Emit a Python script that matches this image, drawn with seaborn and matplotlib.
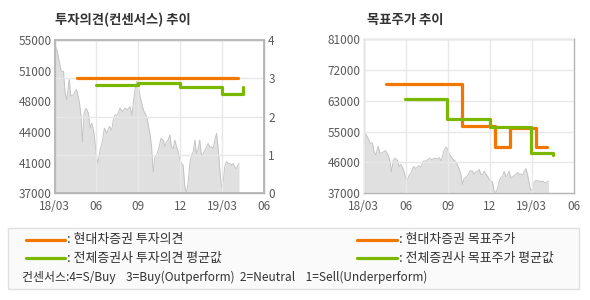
import numpy as np
import pandas as pd
import matplotlib
matplotlib.use("Agg")
import matplotlib.pyplot as plt
import seaborn as sns
from matplotlib.lines import Line2D
from matplotlib.patches import Rectangle

# ---------------- data ----------------
# x in months since 2018-03
price_month = [0.00, 0.17, 0.36, 0.48, 0.64, 0.76, 0.88, 1.05, 1.17, 1.36, 1.55, 1.64, 1.79, 1.90,
               2.00, 2.12, 2.26, 2.43, 2.55, 2.67, 2.83, 2.98, 3.10, 3.26, 3.45, 3.57, 3.74, 3.93,
               4.10, 4.21, 4.33, 4.50, 4.69, 4.88, 5.05, 5.24, 5.40, 5.55, 5.64, 5.76, 5.88, 6.00,
               6.12, 6.24, 6.36, 6.48, 6.60, 6.71, 6.83, 6.95, 7.07, 7.19, 7.31, 7.50, 7.62, 7.79,
               7.90, 8.02, 8.14, 8.26, 8.38, 8.50, 8.62, 8.74, 8.86, 8.98, 9.10, 9.21, 9.33, 9.45,
               9.57, 9.69, 9.81, 9.93, 10.05, 10.17, 10.29, 10.40, 10.52, 10.64, 10.76, 10.88,
               11.00, 11.12, 11.24, 11.36, 11.48, 11.60, 11.71, 11.83, 11.95, 12.07, 12.19, 12.31,
               12.43, 12.55, 12.67, 12.79, 12.90, 13.02, 13.14, 13.21]
price_value = [54500, 53900, 52350, 51350, 51350, 48800, 48000, 50450, 48400, 48600, 49200, 48800,
               47600, 46000, 43050, 46400, 47000, 46400, 44650, 45250, 44050, 41650, 40500, 42050,
               43250, 44650, 44050, 44850, 44450, 45600, 46200, 46200, 47000, 46600, 47000, 46800,
               47200, 46200, 47600, 49200, 50150, 49800, 48400, 47600, 46800, 46400, 46000, 45050,
               44050, 42450, 39500, 41250, 41450, 42450, 43450, 43250, 42450, 43050, 43250, 43850,
               42450, 42250, 43250, 42450, 41850, 40900, 40500, 40300, 37700, 37100, 38300, 40500,
               41450, 41850, 43250, 41650, 42250, 43250, 41450, 41650, 42050, 42450, 42850, 42450,
               42450, 42250, 43250, 44050, 42450, 39900, 37700, 38300, 40100, 40700, 40500, 40500,
               40300, 40500, 40100, 39900, 40300, 40500]

# investment opinion (right axis, 0-4)
opinion_firm_month = [1.64, 13.17]
opinion_firm_value = [3.0, 3.0]
opinion_avg_month = [2.95, 5.95, 9.02, 11.98, 13.50]
opinion_avg_value = [2.84, 2.87, 2.77, 2.59, 2.78]

# target price
target_firm_month = [1.62, 7.00, 9.40, 10.48, 12.29, 13.14]
target_firm_value = [68200, 56100, 50200, 55500, 50200, 50200]
target_avg_month = [2.93, 5.98, 9.05, 11.98, 13.45, 13.50]
target_avg_value = [63900, 58200, 55800, 48400, 48400, 48000]

x_tick_labels = ["18/03", "06", "09", "12", "19/03", "06"]
left_price_labels = ["37000", "41000", "44000", "48000", "51000", "55000"]
right_opinion_labels = ["0", "1", "2", "3", "4"]
target_price_labels = ["37000", "46000", "55000", "63000", "72000", "81000"]

title_left = "투자의견(컨센서스) 추이"
title_right = "목표주가 추이"
legend_labels = [": 현대차증권 투자의견", ": 전체증권사 투자의견 평균값",
                 ": 현대차증권 목표주가", ": 전체증권사 목표주가 평균값"]
consensus_note = "컨센서스:4=S/Buy    3=Buy(Outperform)  2=Neutral    1=Sell(Underperform)"

# ---------------- style ----------------
sns.set_theme(style="white")
plt.rcParams["font.family"] = ["Noto Sans CJK KR", "DejaVu Sans"]

ORANGE = "#F27700"
GREEN = "#7AB800"
FILL = "#e0e0e0"
EDGE = "#c4c4c4"
GRID = "#e8e8e8"
SPINE = "#b4b4b4"
TICKC = "#5a5a5a"
LW = 2.3
TFS = 8.5

price_df = pd.DataFrame({"month": price_month, "price": price_value})
op_firm = pd.DataFrame({"month": opinion_firm_month, "v": opinion_firm_value})
op_avg = pd.DataFrame({"month": opinion_avg_month, "v": opinion_avg_value})
tp_firm = pd.DataFrame({"month": target_firm_month, "v": target_firm_value})
tp_avg = pd.DataFrame({"month": target_avg_month, "v": target_avg_value})

fig = plt.figure(figsize=(5.9, 3.0), dpi=100)
fig.patch.set_facecolor("white")

x_ticks = np.arange(0, 16, 3)

def style_axes(ax):
    for s in ax.spines.values():
        s.set_color(SPINE)
        s.set_linewidth(1.0)
    ax.set_xlim(0, 15)
    ax.set_xticks(x_ticks)
    ax.set_xticklabels(x_tick_labels)
    ax.set_xlabel("")
    ax.set_ylabel("")
    ax.tick_params(axis="y", labelsize=TFS, colors=TICKC, length=0, pad=2)
    ax.tick_params(axis="x", labelsize=TFS, colors=TICKC, length=0, pad=5)
    ax.set_facecolor("white")

# ---------- left chart ----------
ax1 = fig.add_axes([54.5 / 590, 0.356, 209.5 / 590, 0.510])
ax1.fill_between(price_df["month"], price_df["price"], 37000, color=FILL, lw=0, zorder=1)
sns.lineplot(data=price_df, x="month", y="price", ax=ax1, color=EDGE, lw=0.7, estimator=None, zorder=1.2)
style_axes(ax1)
ax1.set_ylim(37000, 55000)
ax1.set_yticks(np.linspace(37000, 55000, 6))
ax1.set_yticklabels(left_price_labels)
ax1.grid(axis="x", color=GRID, lw=1.0)
ax1.grid(axis="y", visible=False)
ax1.set_axisbelow(False)

ax1r = ax1.twinx()
sns.lineplot(data=op_firm, x="month", y="v", ax=ax1r, color=ORANGE, lw=LW, estimator=None,
             drawstyle="steps-post")
sns.lineplot(data=op_avg, x="month", y="v", ax=ax1r, color=GREEN, lw=LW, estimator=None,
             drawstyle="steps-post")
ax1r.set_ylim(0, 4)
ax1r.set_yticks(np.arange(0, 5))
ax1r.set_yticklabels(right_opinion_labels)
ax1r.grid(axis="y", color=GRID, lw=1.0)
ax1r.set_axisbelow(True)
for s in ax1r.spines.values():
    s.set_color(SPINE)
ax1r.tick_params(axis="y", labelsize=TFS, colors=TICKC, length=0, pad=3)
ax1r.set_ylabel("")
ax1.set_xlim(0, 15)

fig.text(55 / 590, 1 - 20 / 300, title_left, fontsize=9.6, fontweight="bold", color="#333333",
         va="center", ha="left")

# ---------- right chart ----------
ax2 = fig.add_axes([363.5 / 590, 0.356, 210 / 590, 0.513])
ax2.fill_between(price_df["month"], price_df["price"], 37000, color=FILL, lw=0, zorder=1)
sns.lineplot(data=price_df, x="month", y="price", ax=ax2, color=EDGE, lw=0.7, estimator=None, zorder=1.2)
sns.lineplot(data=tp_firm, x="month", y="v", ax=ax2, color=ORANGE, lw=LW, estimator=None,
             drawstyle="steps-post", zorder=3)
sns.lineplot(data=tp_avg, x="month", y="v", ax=ax2, color=GREEN, lw=LW, estimator=None,
             drawstyle="steps-post", zorder=3)
style_axes(ax2)
ax2.set_ylim(37000, 81000)
ax2.set_yticks(np.linspace(37000, 81000, 6))
ax2.set_yticklabels(target_price_labels)
ax2.grid(True, color=GRID, lw=1.0)
ax2.set_axisbelow(False)

fig.text(367 / 590, 1 - 20 / 300, title_right, fontsize=9.6, fontweight="bold", color="#333333",
         va="center", ha="left")

# ---------- legend box ----------
fig.add_artist(Rectangle((8 / 590, 1 - 289 / 300), 571 / 590, 61 / 300, transform=fig.transFigure,
                         facecolor="#fafafa", edgecolor="#e0e0e0", lw=1.0))
rows_y = [1 - 240 / 300, 1 - 258 / 300]
cols = [(26 / 590, 65 / 590, 67 / 590), (357 / 590, 397 / 590, 399 / 590)]
colors = [ORANGE, GREEN]
for ci, (x0, x1, xt) in enumerate(cols):
    for ri, y in enumerate(rows_y):
        fig.add_artist(Line2D([x0, x1], [y, y], transform=fig.transFigure, color=colors[ri], lw=LW))
        fig.text(xt, y, legend_labels[ci * 2 + ri], fontsize=9.3, color="#333333", va="center", ha="left")
fig.text(22 / 590, 1 - 277 / 300, consensus_note, fontsize=8.6, color="#333333", va="center", ha="left")

fig.savefig("out.png", dpi=100, facecolor="white")
